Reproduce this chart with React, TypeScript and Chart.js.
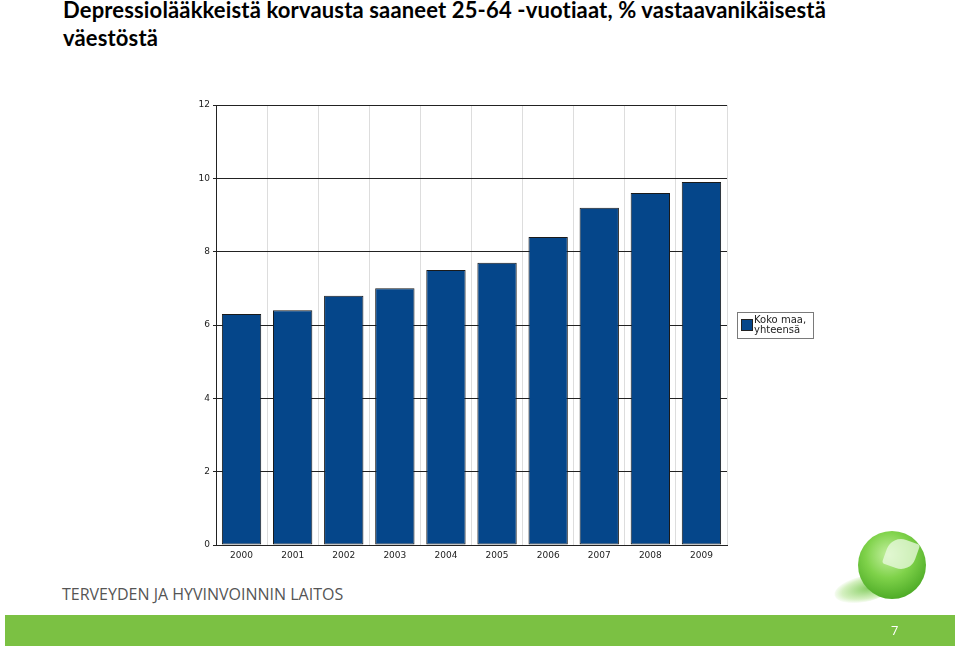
import React, { useEffect, useRef } from "react";
import { Chart, registerables } from "chart.js";

Chart.register(...registerables);

const TITLE_LINE_1 = "Depressiolääkkeistä korvausta saaneet 25-64 -vuotiaat, % vastaavanikäisestä";
const TITLE_LINE_2 = "väestöstä";
const years = ["2000", "2001", "2002", "2003", "2004", "2005", "2006", "2007", "2008", "2009"];
const values = [6.3, 6.4, 6.8, 7.0, 7.5, 7.7, 8.4, 9.2, 9.6, 9.9];
const seriesLabel = ["Koko maa,", "yhteensä"];
const yTicks = [0, 2, 4, 6, 8, 10, 12];
const footerText = "TERVEYDEN JA HYVINVOINNIN LAITOS";
const pageNumber = "7";

const BAR_COLOR = "#05468A";
const TICK_FONT = "'DejaVu Sans', sans-serif";

const legendPlugin = {
  id: "boxLegend",
  afterDraw(chart: any) {
    const { ctx, chartArea } = chart;
    const ds = chart.data.datasets[0];
    const lines: string[] = ds.legendLines;
    const x = chartArea.right + 10;
    const w = 76;
    const h = 26;
    const y = (chartArea.top + chartArea.bottom) / 2 - h / 2;
    ctx.save();
    ctx.fillStyle = "#ffffff";
    ctx.fillRect(x, y, w, h);
    ctx.strokeStyle = "#7a7a7a";
    ctx.lineWidth = 1;
    ctx.strokeRect(x + 0.5, y + 0.5, w, h);
    ctx.fillStyle = ds.backgroundColor;
    ctx.fillRect(x + 4, y + 7, 11, 11);
    ctx.strokeStyle = "#222";
    ctx.strokeRect(x + 4.5, y + 7.5, 11, 11);
    ctx.fillStyle = "#222";
    ctx.font = "10px " + TICK_FONT;
    ctx.textBaseline = "alphabetic";
    ctx.textAlign = "left";
    lines.forEach((t, i) => ctx.fillText(t, x + 17, y + 11 + i * 10));
    ctx.restore();
  },
};

function BarChart() {
  const ref = useRef<HTMLCanvasElement | null>(null);
  useEffect(() => {
    if (!ref.current) return;
    const chart = new Chart(ref.current, {
      type: "bar",
      data: {
        labels: years,
        datasets: [
          {
            label: seriesLabel.join(" "),
            legendLines: seriesLabel,
            data: values,
            backgroundColor: BAR_COLOR,
            borderColor: "#1a1a1a",
            borderWidth: 1,
            borderSkipped: false,
            barPercentage: 0.77,
            categoryPercentage: 1,
          } as any,
        ],
      },
      options: {
        animation: false,
        responsive: false,
        maintainAspectRatio: false,
        layout: { padding: { top: 10, right: 143, left: 0, bottom: 0 } },
        plugins: { legend: { display: false }, tooltip: { enabled: false } },
        scales: {
          x: {
            offset: true,
            grid: {
              offset: true,
              drawTicks: false,
              color: (c: any) => (c.index === 0 || c.index === years.length ? "#222" : "#dddddd"),
              lineWidth: 1,
            },
            border: { color: "#222", width: 1 },
            ticks: {
              color: "#222",
              font: { family: TICK_FONT, size: 9 },
              padding: 5,
              maxRotation: 0,
            },
            afterFit: (s: any) => {
              s.height = 20;
            },
          },
          y: {
            min: 0,
            max: 12,
            afterBuildTicks: (s: any) => {
              s.ticks = yTicks.map((v) => ({ value: v }));
            },
            grid: { color: "#222", lineWidth: 1, tickLength: 3, drawTicks: true },
            border: { color: "#222", width: 1 },
            ticks: {
              color: "#222",
              font: { family: TICK_FONT, size: 9 },
              padding: 3,
            },
            afterFit: (s: any) => {
              s.width = 46;
            },
          },
        },
      },
      plugins: [legendPlugin],
    });
    return () => chart.destroy();
  }, []);
  return (
    <canvas
      ref={ref}
      width={700}
      height={470}
      style={{ position: "absolute", left: 170, top: 95, width: 700, height: 470 }}
    />
  );
}

export default function App() {
  return (
    <div
      style={{
        position: "fixed",
        left: 0,
        top: 0,
        width: 960,
        height: 648,
        background: "#ffffff",
        overflow: "hidden",
      }}
    >
      <div
        style={{
          position: "absolute",
          left: 63,
          top: -4,
          fontFamily: "Lato, 'Liberation Sans', sans-serif",
          fontWeight: 700,
          fontSize: 22,
          letterSpacing: 0.15,
          lineHeight: "28px",
          color: "#000",
          whiteSpace: "nowrap",
        }}
      >
        <div>{TITLE_LINE_1}</div>
        <div>{TITLE_LINE_2}</div>
      </div>
      <BarChart />
      <div
        style={{
          position: "absolute",
          left: 62,
          top: 583,
          fontFamily: "'Open Sans', sans-serif",
          fontSize: 16,
          color: "#555",
          whiteSpace: "nowrap",
        }}
      >
        {footerText}
      </div>
      {/* logo shadow */}
      <div
        style={{
          position: "absolute",
          left: 834,
          top: 576,
          width: 60,
          height: 26,
          borderRadius: "50%",
          background: "radial-gradient(ellipse at 60% 50%, rgba(120,200,80,0.9), rgba(170,225,130,0.5) 55%, rgba(255,255,255,0) 75%)",
          transform: "rotate(-12deg)",
        }}
      />
      {/* logo sphere */}
      <div
        style={{
          position: "absolute",
          left: 858,
          top: 531,
          width: 68,
          height: 68,
          borderRadius: "50%",
          background: "radial-gradient(circle at 45% 35%, #c4f0a0 0%, #7fd24a 40%, #4aa824 80%, #2f8216 100%)",
        }}
      >
        <div
          style={{
            position: "absolute",
            left: 28,
            top: 8,
            width: 30,
            height: 30,
            borderRadius: "50% 10% 50% 10%",
            background: "rgba(235,250,225,0.75)",
            transform: "rotate(20deg)",
          }}
        />
      </div>
      <div
        style={{
          position: "absolute",
          left: 5,
          top: 615,
          width: 950,
          height: 31,
          background: "#7bc143",
        }}
      >
        <div
          style={{
            position: "absolute",
            left: 886,
            top: 6,
            fontFamily: "'Open Sans', sans-serif",
            fontSize: 13,
            color: "#fff",
          }}
        >
          {pageNumber}
        </div>
      </div>
    </div>
  );
}
